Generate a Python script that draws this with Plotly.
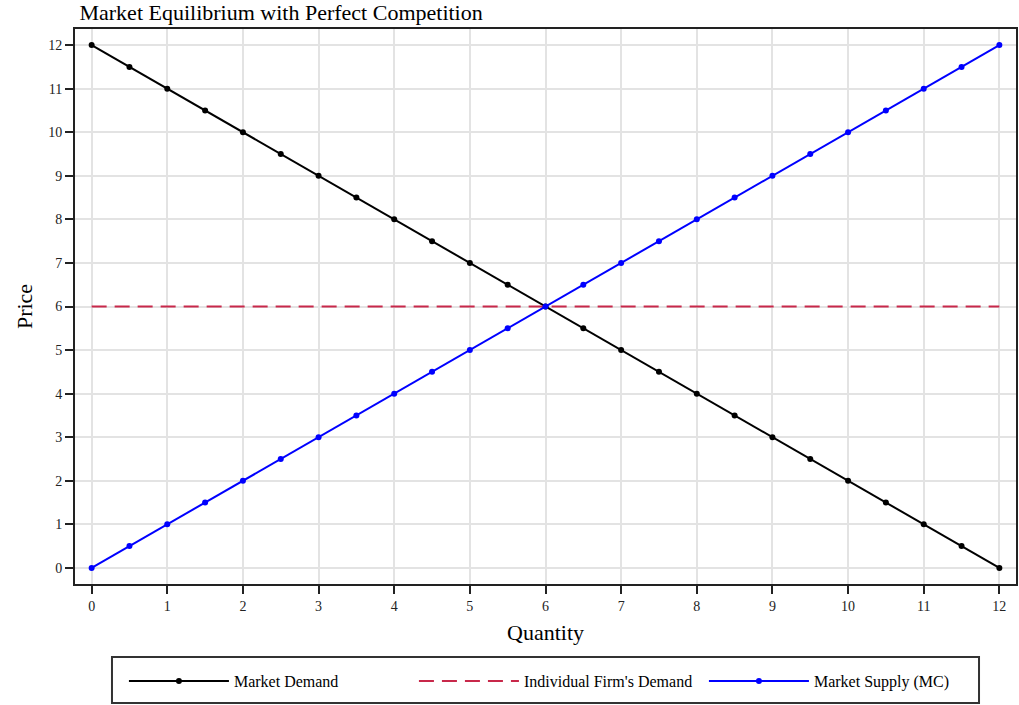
import plotly.graph_objects as go

# -- datos
cantidad = [0, 0.5, 1, 1.5, 2, 2.5, 3, 3.5, 4, 4.5, 5, 5.5, 6,
            6.5, 7, 7.5, 8, 8.5, 9, 9.5, 10, 10.5, 11, 11.5, 12]
demanda = [12, 11.5, 11, 10.5, 10, 9.5, 9, 8.5, 8, 7.5, 7, 6.5, 6,
           5.5, 5, 4.5, 4, 3.5, 3, 2.5, 2, 1.5, 1, 0.5, 0]
oferta = [0, 0.5, 1, 1.5, 2, 2.5, 3, 3.5, 4, 4.5, 5, 5.5, 6,
          6.5, 7, 7.5, 8, 8.5, 9, 9.5, 10, 10.5, 11, 11.5, 12]
firma_x = [0, 12]
firma_y = [6, 6]
ticks = [0, 1, 2, 3, 4, 5, 6, 7, 8, 9, 10, 11, 12]

fuente = 'Liberation Serif'

fig = go.Figure()

fig.add_trace(go.Scatter(x=cantidad, y=demanda, mode='lines+markers', name='Market Demand',
                         line=dict(color='black', width=2), marker=dict(color='black', size=6)))
fig.add_trace(go.Scatter(x=firma_x, y=firma_y, mode='lines', name="Individual Firm's Demand",
                         line=dict(color='#c8284a', width=2, dash='15px,8px')))
fig.add_trace(go.Scatter(x=cantidad, y=oferta, mode='lines+markers', name='Market Supply (MC)',
                         line=dict(color='blue', width=2), marker=dict(color='blue', size=6)))

ejes = dict(tickvals=ticks, showgrid=True, gridcolor='#e3e3e3', gridwidth=2,
            showline=True, linecolor='#222222', linewidth=2, mirror=True,
            ticks='outside', ticklen=8, tickwidth=2, tickcolor='#222222',
            zeroline=False, automargin=False,
            tickfont=dict(family=fuente, size=14, color='#222222'))

fig.update_xaxes(range=[-0.22, 12.22], title=dict(text='Quantity', font=dict(family=fuente, size=22, color='black'),
                                                  standoff=12), **ejes)
fig.update_yaxes(range=[-0.37, 12.37], title=dict(text='Price', font=dict(family=fuente, size=22, color='black'),
                                                  standoff=10), **ejes)

# marco de la leyenda (mas alto que el que plotly dibuja)
fig.add_shape(type='rect', xref='paper', yref='paper', x0=0.0393, x1=0.9607, y0=-0.2145, y1=-0.1315,
              line=dict(color='#333333', width=2), fillcolor='rgba(0,0,0,0)', layer='above')

fig.update_layout(width=1019, height=705, plot_bgcolor='white', paper_bgcolor='white',
                  margin=dict(l=75, r=3, t=29, b=121),
                  title=dict(text='Market Equilibrium with Perfect Competition', x=0.078, xanchor='left',
                             y=0.982, yanchor='middle', font=dict(family=fuente, size=22, color='black')),
                  legend=dict(orientation='h', x=0.052, xanchor='left', y=-0.1748, yanchor='middle',
                              borderwidth=0, bgcolor='rgba(0,0,0,0)', itemwidth=100, entrywidth=175,
                              font=dict(family=fuente, size=16, color='black')),
                  font=dict(family=fuente))

# quitar margen del body para que la figura quede en la esquina
fig.write_html("out.html", config={'displayModeBar': False},
               post_script="document.body.style.margin='0';")
